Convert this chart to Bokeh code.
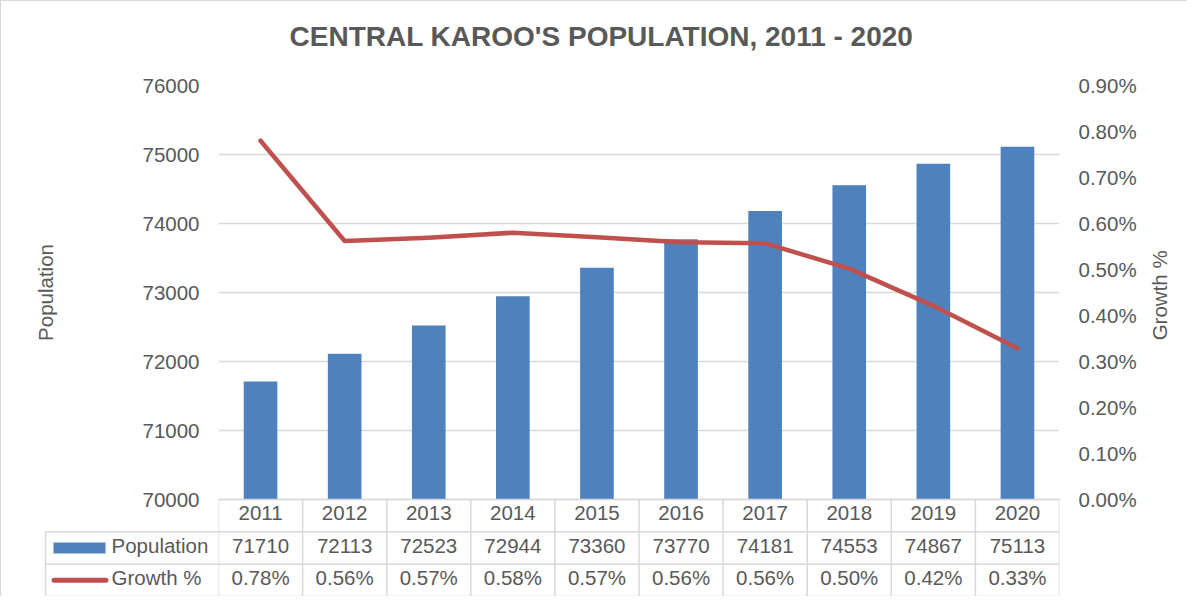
import math
from bokeh.plotting import figure
from bokeh.models import Range1d, LinearAxis, FixedTicker, PrintfTickFormatter, Grid
from bokeh.embed import file_html
from bokeh.resources import INLINE
from bokeh.core.properties import value

# ---------------- data ----------------
chart_title = "CENTRAL KAROO'S POPULATION, 2011 - 2020"
years = ["2011", "2012", "2013", "2014", "2015", "2016", "2017", "2018", "2019", "2020"]
population = [71710, 72113, 72523, 72944, 73360, 73770, 74181, 74553, 74867, 75113]
growth_pct = [0.78, 0.562, 0.569, 0.580, 0.570, 0.559, 0.557, 0.502, 0.421, 0.329]
growth_labels = ["0.78%", "0.56%", "0.57%", "0.58%", "0.57%", "0.56%", "0.56%", "0.50%", "0.42%", "0.33%"]
pop_ticks = [70000, 71000, 72000, 73000, 74000, 75000, 76000]
pct_ticks = [0.0, 0.1, 0.2, 0.3, 0.4, 0.5, 0.6, 0.7, 0.8, 0.9]
series_names = ["Population", "Growth %"]
left_title = "Population"
right_title = "Growth  %"

# ---------------- layout (page pixels) ----------------
PAGE = 8
FIG_W, FIG_H = 1187, 596
PLOT_L, PLOT_R = 225, 1066
PLOT_T = 92
AXIS_ZERO = 506
ROW_H = 97 / 3.0
TABLE_B = AXIS_ZERO + 3 * ROW_H
FRAME_B = 604
TABLE_L = 52
TITLE_CX, TITLE_CY = 608, 43
LTITLE_X, RTITLE_X = 52, 1166
TEXT_NUDGE = 2.5 / ROW_H

BLUE = "#4F81BD"
RED = "#C0504D"
TXT = "#595959"
LINE = "#D9D9D9"
FONT = "Liberation Sans"
FS = "20.5px"

n = len(years)
cat_px = (PLOT_R - PLOT_L) / n
xs = [i + 0.5 for i in range(n)]

pop_px = (AXIS_ZERO - PLOT_T) / (pop_ticks[-1] - pop_ticks[0])
pop_start = pop_ticks[0] - (FRAME_B - AXIS_ZERO) / pop_px
pct_px = (AXIS_ZERO - PLOT_T) / (pct_ticks[-1] - pct_ticks[0])
pct_start = pct_ticks[0] - (FRAME_B - AXIS_ZERO) / pct_px
tbl_start = -(FRAME_B - TABLE_B) / ROW_H
tbl_end = tbl_start + (FRAME_B - PLOT_T) / ROW_H
pop_mid = (pop_ticks[0] + pop_ticks[-1]) / 2

def px_to_x(px):
    return (px - PLOT_L) / cat_px

def px_to_pop(py):
    return pop_ticks[0] + (AXIS_ZERO - py) / pop_px

p = figure(width=FIG_W, height=FIG_H,
           x_range=Range1d(0, n), y_range=Range1d(pop_start, pop_ticks[-1]),
           x_axis_type=None, y_axis_type=None,
           toolbar_location=None, output_backend="svg",
           min_border_left=PLOT_L - PAGE, min_border_right=FIG_W - (PLOT_R - PAGE),
           min_border_top=PLOT_T - PAGE, min_border_bottom=FIG_H - (FRAME_B - PAGE))
p.extra_y_ranges = {"pct": Range1d(pct_start, pct_ticks[-1]),
                    "tbl": Range1d(tbl_start, tbl_end)}
p.outline_line_color = None
p.background_fill_color = "white"
p.border_fill_color = "white"
p.styles = {"border-top": "1px solid #D9D9D9", "border-left": "1px solid #D9D9D9"}

# axes
def style_axis(ax):
    ax.axis_line_color = None
    ax.major_tick_line_color = None
    ax.minor_tick_line_color = None
    ax.major_tick_out = 0
    ax.major_tick_in = 0
    ax.major_label_standoff = 19
    ax.major_label_text_font = FONT
    ax.major_label_text_font_size = FS
    ax.major_label_text_color = TXT

ax_l = LinearAxis(ticker=FixedTicker(ticks=pop_ticks), formatter=PrintfTickFormatter(format="%d"))
style_axis(ax_l)
p.add_layout(ax_l, "left")

ax_r = LinearAxis(y_range_name="pct", ticker=FixedTicker(ticks=pct_ticks),
                  formatter=PrintfTickFormatter(format="%.2f%%"))
style_axis(ax_r)
p.add_layout(ax_r, "right")

p.add_layout(Grid(dimension=1, ticker=FixedTicker(ticks=pop_ticks),
                  grid_line_color=LINE, grid_line_width=1.5))

# title and axis titles (drawn as text above the frame level so they are not clipped)
p.text(x=[px_to_x(TITLE_CX)], y=[px_to_pop(TITLE_CY)], text=[chart_title],
       text_font=value(FONT), text_font_size="28px", text_font_style="bold",
       text_color=TXT, text_align="center", text_baseline="middle", level="overlay")
p.text(x=[px_to_x(LTITLE_X), px_to_x(RTITLE_X)], y=[pop_mid, pop_mid],
       text=[left_title, right_title], angle=math.pi / 2,
       text_font=value(FONT), text_font_size=FS, text_color=TXT,
       text_align="center", text_baseline="middle", level="overlay")

# bars and line
p.vbar(x=xs, width=0.4, bottom=pop_ticks[0], top=population, fill_color=BLUE, line_color=None)
p.line(x=xs, y=growth_pct, y_range_name="pct", line_color=RED, line_width=4.5,
       line_cap="round", line_join="round")

# data table
left_w = px_to_x(TABLE_L)
vx = list(range(n + 1))
p.segment(x0=vx, y0=[0] * (n + 1), x1=vx, y1=[3] * (n + 1), y_range_name="tbl",
          line_color=LINE, line_width=1.5)
p.segment(x0=[0, left_w, left_w, left_w], y0=[3, 2, 1, 0], x1=[n] * 4, y1=[3, 2, 1, 0],
          y_range_name="tbl", line_color=LINE, line_width=1.5, level="overlay")
p.segment(x0=[left_w], y0=[0], x1=[left_w], y1=[2], y_range_name="tbl",
          line_color=LINE, line_width=1.5, level="overlay")

txt_kw = dict(y_range_name="tbl", text_font=value(FONT), text_font_size=FS, text_color=TXT,
              text_align="center", text_baseline="middle")
p.text(x=xs, y=[2.5 + TEXT_NUDGE] * n, text=years, **txt_kw)
p.text(x=xs, y=[1.5 + TEXT_NUDGE] * n, text=[str(v) for v in population], **txt_kw)
p.text(x=xs, y=[0.5 + TEXT_NUDGE] * n, text=growth_labels, **txt_kw)

# legend keys in table
p.rect(x=[px_to_x(86)], y=[1.5], width=52, height=11, width_units="screen", height_units="screen",
       fill_color=BLUE, line_color=None, y_range_name="tbl", level="overlay")
p.segment(x0=[px_to_x(60.5)], y0=[0.5], x1=[px_to_x(112.5)], y1=[0.5], line_color=RED,
          line_width=5, line_cap="round", y_range_name="tbl", level="overlay")
p.text(x=[px_to_x(118)] * 2, y=[1.5 + TEXT_NUDGE, 0.5 + TEXT_NUDGE], text=series_names,
       y_range_name="tbl", text_font=value(FONT), text_font_size=FS, text_color=TXT,
       text_align="left", text_baseline="middle", level="overlay")

open("out.html", "w").write(file_html(p, INLINE))
